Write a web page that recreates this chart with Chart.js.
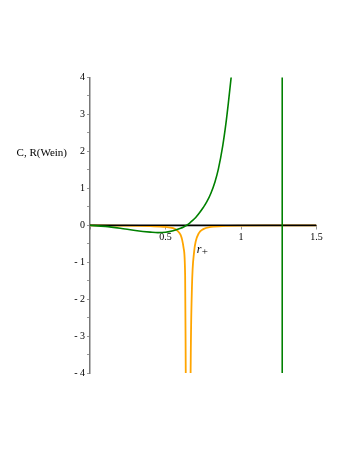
<!DOCTYPE html>
<html>
<head>
<meta charset="utf-8">
<script src="https://cdn.jsdelivr.net/npm/chart.js@4.4.1/dist/chart.umd.min.js"></script>
<style>
html,body{margin:0;padding:0;background:#fff;}
canvas{display:block;}
</style>
</head>
<body>
<canvas id="c" width="349" height="451"></canvas>
<script>
// ---- data ----
const yTitle = "C, R(Wein)";
const rLabel = "r";
const rSub = "+";
const rLabelPos = [0.73, -0.68];

const greenX = [0, 0.1, 0.2, 0.3, 0.4, 0.45, 0.5, 0.55, 0.6, 0.62, 0.64, 0.66, 0.68, 0.7, 0.72, 0.75, 0.773, 0.8, 0.828, 0.85, 0.879, 0.9, 0.916, 0.94, 0.96, 1.1, 1.2, 1.272, 1.274, 1.35, 1.5];
const greenY = [0, -0.03, -0.08, -0.14, -0.185, -0.2, -0.19, -0.15, -0.08, -0.045, 0, 0.06, 0.13, 0.21, 0.31, 0.48, 0.63, 0.86, 1.18, 1.52, 2.15, 2.75, 3.3, 4.2, 5.0, 15, 40, 3000, -3000, -60, -20];

const orangeX = [0, 0.2, 0.4, 0.5, 0.55, 0.58, 0.6, 0.61, 0.62, 0.63, 0.634, 0.64, 0.645, 0.6505, 0.656, 0.661, 0.667, 0.675, 0.69, 0.7, 0.72, 0.75, 0.8, 0.9, 1.0, 1.2, 1.5];
const orangeY = [-0.003, -0.01, -0.025, -0.045, -0.08, -0.15, -0.26, -0.39, -0.62, -1.35, -3.9, -10, -40, -300, -40, -8.5, -3.7, -1.7, -0.7, -0.44, -0.22, -0.105, -0.045, -0.017, -0.009, -0.004, -0.002];

const zeroX = [0, 1.5];
const zeroY = [0, 0];

const xTicks = [0.5, 1, 1.5];
const yTicks = [-4, -3, -2, -1, 0, 1, 2, 3, 4];

function pts(xs, ys){ return xs.map((x,i)=>({x:x, y:ys[i]})); }

const labelsPlugin = {
  id: 'labels',
  afterDraw(chart){
    const ctx = chart.ctx;
    const xs = chart.scales.x, ys = chart.scales.y;
    ctx.save();
    ctx.fillStyle = '#000';
    ctx.font = '11px "Liberation Serif", "Times New Roman", serif';
    ctx.textAlign = 'right';
    ctx.textBaseline = 'middle';
    ctx.fillText(yTitle, 67, 153);
    const px = xs.getPixelForValue(rLabelPos[0]);
    const py = ys.getPixelForValue(rLabelPos[1]);
    ctx.textAlign = 'left';
    ctx.textBaseline = 'alphabetic';
    ctx.font = 'italic 12px "Liberation Serif", "Times New Roman", serif';
    ctx.fillText(rLabel, px - 3.5, py + 3);
    ctx.font = '11px "Liberation Serif", "Times New Roman", serif';
    ctx.fillText(rSub, px + 1.5, py + 5);
    ctx.restore();
  }
};

new Chart(document.getElementById('c'), {
  type: 'scatter',
  data: {
    datasets: [
      { data: pts(orangeX, orangeY), showLine: true, borderColor: '#FFA500', borderWidth: 1.8, pointRadius: 0, cubicInterpolationMode: 'monotone', order: 3 },
      { data: pts(zeroX, zeroY), showLine: true, borderColor: '#000', borderWidth: 1.5, pointRadius: 0, tension: 0, order: 2 },
      { data: pts(greenX, greenY), showLine: true, borderColor: '#008000', borderWidth: 1.6, pointRadius: 0, cubicInterpolationMode: 'monotone', order: 1 }
    ]
  },
  options: {
    responsive: false,
    animation: false,
    devicePixelRatio: 1,
    layout: { padding: { left: 0, right: 32.5, top: 77.5, bottom: 78 } },
    plugins: { legend: { display: false }, tooltip: { enabled: false }, title: { display: false } },
    scales: {
      x: {
        type: 'linear',
        min: 0, max: 1.5,
        position: { y: 0 },
        afterFit(s){ s.height = 0; },
        afterBuildTicks(s){ s.ticks = [0].concat(xTicks).map(v=>({value:v})); },
        ticks: {
          padding: 3,
          color: '#000',
          font: { family: '"Liberation Serif", "Times New Roman", serif', size: 10 },
          maxRotation: 0,
          callback(v){ return v === 0 ? '' : String(v); }
        },
        grid: { display: true, drawOnChartArea: false, drawTicks: true, tickLength: 3, color: '#999' },
        border: { display: true, color: '#777', width: 1.5 }
      },
      y: {
        type: 'linear',
        min: -4, max: 4,
        position: 'left',
        afterFit(s){ s.width = 90; },
        afterBuildTicks(s){
          const t = [];
          yTicks.forEach((v,i)=>{ t.push({value:v}); if (i < yTicks.length-1) t.push({value:v+0.5}); });
          s.ticks = t;
        },
        ticks: {
          padding: 2,
          color: '#000',
          font: { family: '"Liberation Serif", "Times New Roman", serif', size: 10 },
          callback(v){
            if (!Number.isInteger(v)) return '';
            return v < 0 ? '- ' + Math.abs(v) : String(v);
          }
        },
        grid: { display: true, drawOnChartArea: false, drawTicks: true, tickLength: 3, color: '#999' },
        border: { display: true, color: '#777', width: 1.5 }
      }
    }
  },
  plugins: [labelsPlugin]
});
</script>
</body>
</html>
